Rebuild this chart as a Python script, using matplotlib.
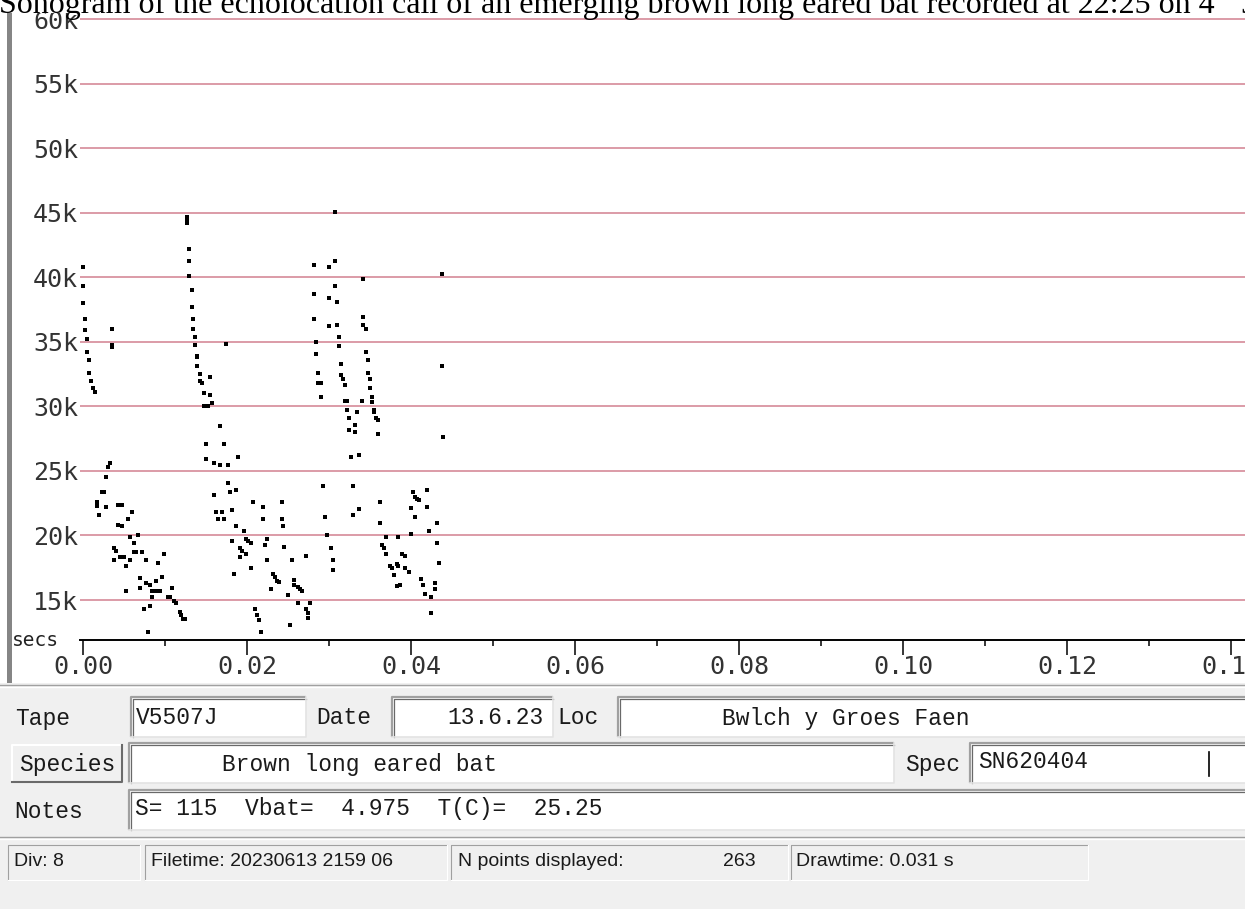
import matplotlib
matplotlib.use("Agg")
import matplotlib.pyplot as plt
from matplotlib.patches import Rectangle
from matplotlib.ticker import MultipleLocator

W, H = 1245, 909

# (time in ms, frequency in kHz), one list per pulse group
call_a = [(0.00, 40.8), (0.00, 39.3), (0.00, 38.0), (0.24, 36.8), (0.24, 35.9),
          (0.49, 35.2), (0.49, 34.2), (0.73, 33.6), (0.73, 32.6), (0.98, 32.0),
          (1.22, 31.4), (1.46, 31.1), (3.54, 36.0), (3.54, 34.8), (3.54, 34.6),
          (3.29, 25.6), (3.05, 25.3), (2.80, 24.5), (2.32, 23.4), (2.56, 23.4),
          (1.71, 22.6), (1.71, 22.3), (2.80, 22.2), (1.95, 21.6), (4.27, 22.4),
          (4.76, 22.4), (5.98, 21.8), (5.49, 21.3), (4.27, 20.8), (4.76, 20.7),
          (5.73, 19.9), (6.71, 20.0), (6.22, 19.4), (3.78, 19.0), (4.02, 18.8),
          (6.22, 18.7), (6.46, 18.7), (7.20, 18.7), (3.78, 18.1), (4.51, 18.3),
          (5.00, 18.3), (5.73, 18.1), (5.24, 17.6), (7.68, 18.1), (9.88, 18.6),
          (9.15, 17.9), (6.95, 16.7), (7.68, 16.3), (8.17, 16.2), (8.90, 16.5),
          (9.63, 16.8), (6.95, 15.9), (8.41, 15.7), (8.90, 15.7), (9.39, 15.7),
          (8.41, 15.2), (10.85, 15.9), (10.61, 15.2), (10.37, 15.2), (11.10, 14.9),
          (11.34, 14.8), (5.24, 15.7), (8.17, 14.5), (7.44, 14.3), (11.83, 14.1),
          (11.95, 13.8), (12.20, 13.5), (12.44, 13.5), (7.93, 12.5)]

call_b = [(12.68, 44.7), (12.68, 44.5), (12.68, 44.2), (12.93, 42.2), (12.93, 41.3),
          (12.93, 40.1), (13.29, 39.0), (13.29, 37.7), (13.41, 36.8), (13.41, 36.0),
          (13.66, 35.4), (13.66, 34.8), (13.90, 33.9), (13.90, 33.8), (13.90, 33.1),
          (14.27, 32.5), (14.27, 32.0), (14.51, 31.8), (14.76, 31.05), (15.49, 32.3),
          (15.49, 30.9), (15.73, 30.3), (14.76, 30.0), (15.00, 30.0), (15.24, 30.0),
          (16.71, 28.5), (17.44, 34.85), (15.00, 27.1), (17.20, 27.1), (15.00, 25.9),
          (15.98, 25.6), (16.71, 25.5), (17.68, 25.5), (18.90, 26.1), (17.68, 24.1),
          (17.93, 23.4), (18.66, 23.5), (15.98, 23.1), (16.22, 21.8), (16.95, 21.8),
          (16.46, 21.3), (17.20, 21.3), (18.17, 22.0), (20.73, 22.6), (21.95, 22.2),
          (21.95, 21.3), (24.27, 22.6), (24.27, 21.3), (24.39, 20.7), (18.66, 20.7),
          (19.63, 20.35), (19.88, 19.7), (20.12, 19.6), (20.49, 19.4), (18.17, 19.6),
          (19.15, 19.0), (19.39, 18.8), (19.88, 18.6), (19.15, 18.3), (20.49, 17.5),
          (18.41, 17.0), (22.44, 19.7), (22.20, 19.3), (22.44, 18.1), (23.17, 17.0),
          (23.41, 16.8), (23.66, 16.5), (22.93, 15.85), (24.51, 19.1), (20.98, 14.3),
          (21.22, 13.8), (21.46, 13.45), (21.71, 12.5), (25.24, 13.1), (26.22, 14.8),
          (27.20, 18.4), (27.20, 14.3), (27.68, 14.8), (27.44, 14.0), (27.44, 13.6),
          (25.73, 16.55), (25.73, 16.2), (25.49, 18.1), (25.00, 15.4), (26.22, 16.0),
          (26.46, 15.85), (26.71, 15.7), (23.90, 16.4)]

call_c = [(28.17, 41.0), (30.00, 40.8), (30.73, 41.3), (30.73, 45.1), (28.17, 38.7),
          (30.73, 39.3), (30.00, 38.4), (30.98, 38.1), (28.17, 36.8), (30.00, 36.2),
          (30.98, 36.3), (31.22, 35.4), (31.22, 34.7), (28.41, 35.0), (28.41, 34.1),
          (28.66, 32.6), (28.66, 31.8), (29.02, 31.8), (29.02, 30.7), (31.46, 33.3),
          (31.46, 32.4), (31.71, 32.1), (31.95, 31.7), (31.95, 30.4), (32.20, 30.4),
          (32.20, 29.7), (33.41, 29.6), (32.44, 29.1), (33.17, 28.6), (32.44, 28.2),
          (33.17, 28.0), (32.68, 26.1), (33.66, 26.2), (34.02, 30.4), (34.15, 39.9),
          (34.15, 36.9), (34.15, 36.3), (34.51, 36.0), (34.51, 34.2), (34.76, 33.6),
          (34.76, 32.6), (35.00, 32.1), (35.00, 31.4), (35.24, 30.7), (35.24, 30.35),
          (35.49, 29.7), (35.49, 29.6), (35.73, 29.1), (35.98, 28.95), (35.98, 27.9),
          (29.27, 23.8), (29.51, 21.4), (29.76, 20.0), (30.24, 19.0), (30.49, 18.1),
          (30.49, 17.3), (32.93, 23.8), (32.93, 21.6), (33.66, 22.05)]

call_d = [(36.22, 22.6), (36.22, 21.0), (36.46, 19.3), (36.71, 19.0), (36.95, 18.6),
          (36.95, 19.9), (37.44, 17.6), (37.68, 17.5), (38.29, 17.8), (38.41, 17.6),
          (38.41, 19.9), (37.93, 16.9), (38.29, 16.1), (38.66, 16.2), (38.90, 18.6),
          (39.27, 18.4), (39.27, 17.5), (39.76, 17.2), (40.00, 22.1), (40.00, 20.1),
          (40.24, 23.4), (40.49, 23.0), (40.73, 22.8), (40.98, 22.75), (40.49, 21.4),
          (41.22, 16.6), (41.46, 16.2), (41.71, 15.5), (41.95, 23.5), (41.95, 22.2),
          (42.20, 20.35), (42.44, 15.2), (42.44, 14.0), (42.93, 16.3), (42.93, 15.85),
          (43.17, 21.0), (43.17, 19.4), (43.41, 17.9), (43.78, 40.3), (43.78, 33.1),
          (43.90, 27.6)]

freq_ticks = [15, 20, 25, 30, 35, 40, 45, 50, 55, 60]
time_ticks = [0.00, 0.02, 0.04, 0.06, 0.08, 0.10, 0.12, 0.14]

title = "Sonogram of the echolocation call of an emerging brown long eared bat recorded at 22:25 on 4"
tape, date, loc = "V5507J", "13.6.23", "Bwlch y Groes Faen"
species, spec = "Brown long eared bat", "SN620404"
notes = "S= 115  Vbat=  4.975  T(C)=  25.25"
status = ["Div: 8", "Filetime: 20230613 2159 06", "N points displayed:", "263",
          "Drawtime: 0.031 s"]

fig = plt.figure(figsize=(W / 100, H / 100), dpi=100)
fig.patch.set_facecolor("white")

# background layer in pixel coordinates (y down)
bg = fig.add_axes([0, 0, 1, 1], zorder=0)
bg.set_xlim(0, W)
bg.set_ylim(H, 0)
bg.axis("off")

bg.add_patch(Rectangle((7, 0), 4.5, 683, facecolor="#858585", edgecolor="none"))
bg.add_patch(Rectangle((0, 683), W, H - 683, facecolor="#f0f0f0", edgecolor="none"))
bg.plot([0, W], [685, 685], color="#a0a0a0", lw=1)
bg.plot([0, W], [686.5, 686.5], color="white", lw=1)
bg.plot([0, W], [837, 837], color="#a0a0a0", lw=1)
bg.plot([0, W], [838.5, 838.5], color="white", lw=1)


def sunken(x0, y0, x1, y1):
    bg.add_patch(Rectangle((x0, y0), x1 - x0, y1 - y0, facecolor="white", edgecolor="none"))
    bg.plot([x0, x0, x1], [y1, y0, y0], color="#a0a0a0", lw=1.6, solid_capstyle="butt")
    bg.plot([x0 + 1.5, x0 + 1.5, x1], [y1, y0 + 1.5, y0 + 1.5], color="#696969", lw=0.9)
    bg.plot([x0, x1, x1], [y1, y1, y0], color="#e3e3e3", lw=1.2)


def raised(x0, y0, x1, y1):
    bg.add_patch(Rectangle((x0, y0), x1 - x0, y1 - y0, facecolor="#f0f0f0", edgecolor="none"))
    bg.plot([x0, x0, x1], [y1, y0, y0], color="white", lw=1.5)
    bg.plot([x0, x1, x1], [y1, y1, y0], color="#6a6a6a", lw=1.5)


def field(x0, y0, x1, y1):
    bg.plot([x0, x0, x1], [y1, y0, y0], color="#a0a0a0", lw=0.8)
    bg.plot([x0, x1, x1], [y1, y1, y0], color="white", lw=0.8)


form = dict(family="Liberation Mono", fontsize=16.5, color="#1a1a1a", va="center")
bar = dict(family="Liberation Sans", fontsize=14, color="#1a1a1a", va="center")

# row 1
bg.text(15, 718, "Tape", **form)
sunken(131, 697, 306, 737)
bg.text(136, 718, tape, **form)
bg.text(316, 718, "Date", **form)
sunken(392, 697, 553, 737)
bg.text(544, 718, date, ha="right", **form)
bg.text(557, 718, "Loc", **form)
sunken(618, 697, 1260, 737)
bg.text(722, 718, loc, **form)

# row 2
raised(12, 745, 122, 782)
bg.text(67, 764, "Species", ha="center", **form)
sunken(129, 743, 894, 783)
bg.text(222, 764, species, **form)
bg.text(905, 764, "Spec", **form)
sunken(970, 743, 1260, 783)
bg.text(978, 762, spec, **form)
bg.plot([1209, 1209], [752, 776], color="black", lw=1.2)

# row 3
bg.text(14, 812, "Notes", **form)
sunken(129, 790, 1260, 830)
bg.text(135, 809, notes, **form)

# status bar
for x0, x1 in [(8, 140), (145, 447), (451, 788), (791, 1088)]:
    field(x0, 845, x1, 880)
bg.text(14, 862, status[0], **bar)
bg.text(151, 862, status[1], **bar)
bg.text(458, 862, status[2], **bar)
bg.text(723, 862, status[3], **bar)
bg.text(796, 862, status[4], **bar)

bg.text(12, 641, "secs", family="DejaVu Sans Mono", fontsize=14, color="#222222",
        va="center", ha="left")

# sonogram axes
x_left, x_right, y_top, y_bot = 80, W, 0, 640
ax = fig.add_axes([x_left / W, (H - y_bot) / H, (x_right - x_left) / W, (y_bot - y_top) / H],
                  zorder=1)
ax.patch.set_alpha(0)
ax.set_xlim((x_left - 83) / 8200, (x_right - 83) / 8200)
ax.set_ylim(11.9, 61.5)

for call in (call_a, call_b, call_c, call_d):
    t, f = zip(*call)
    ax.plot([v / 1000 for v in t], f, "s", ms=2.8, mew=0, color="black", zorder=3)

for s in ("left", "right", "top"):
    ax.spines[s].set_visible(False)
ax.spines["bottom"].set_linewidth(1.4)

ax.set_yticks(freq_ticks)
ax.set_yticklabels([f"{v}k" for v in freq_ticks])
ax.set_xticks(time_ticks)
ax.set_xticklabels([f"{v:.2f}" for v in time_ticks])
ax.xaxis.set_minor_locator(MultipleLocator(0.01))
ax.tick_params(axis="y", length=0, pad=1.5, labelsize=18, labelcolor="#333333",
               labelfontfamily="DejaVu Sans Mono")
ax.tick_params(axis="x", which="major", length=11, width=1.1, pad=0, labelsize=18,
               labelcolor="#333333", labelfontfamily="DejaVu Sans Mono")
ax.tick_params(axis="x", which="minor", length=4.5, width=1.1)
ax.grid(axis="y", color="#d68a98", lw=1.2)
ax.set_axisbelow(True)

# caption overlaid on the top of the screenshot
fig.add_artist(Rectangle((0, 1 - 13 / H), 1, 13 / H, transform=fig.transFigure,
                         facecolor="white", edgecolor="none", zorder=10))
cap = fig.text(-1 / W, 1 - 13 / H, title, family="Liberation Serif", fontsize=23,
               va="baseline", ha="left", color="black", zorder=11)
bb = cap.get_window_extent(renderer=fig.canvas.get_renderer())
fig.text(bb.x1 / W, 1 + 1 / H, "th", family="Liberation Serif", fontsize=14,
         va="baseline", ha="left", color="black", zorder=11)
fig.text(bb.x1 / W + 19 / W, 1 - 13 / H, " J", family="Liberation Serif", fontsize=23,
         va="baseline", ha="left", color="black", zorder=11)

fig.savefig("out.png", dpi=100)
